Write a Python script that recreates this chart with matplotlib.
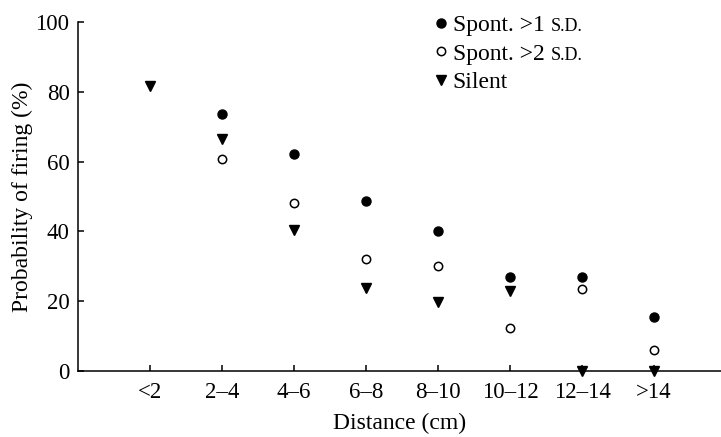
import numpy as np
from matplotlib import pyplot as plt

# Distance bins and firing probabilities (%)
categories = ['<2', '2–4', '4–6', '6–8', '8–10', '10–12', '12–14', '>14']
spont1 = [np.nan, 73.7, 62.1, 48.8, 40.0, 26.9, 26.9, 15.5]
spont2 = [np.nan, 60.7, 48.1, 32.0, 30.2, 12.3, 23.5, 6.0]
silent = [81.5, 66.4, 40.4, 23.7, 19.8, 22.9, 0.0, 0.0]
yticks = [0, 20, 40, 60, 80, 100]

plt.rcParams['font.family'] = ['Liberation Serif', 'DejaVu Serif']

fig = plt.figure(figsize=(7.21, 4.37), dpi=100)
ax = fig.add_axes([0.108, 0.151, 0.892, 0.799])

x = np.arange(1, len(categories) + 1)
ax.plot(x, spont1, 'o', color='black', markersize=6.5, clip_on=False, label='Spont. >1')
ax.plot(x, spont2, 'o', markerfacecolor='white', markeredgecolor='black', markeredgewidth=1.1,
        markersize=6, clip_on=False, label='Spont. >2')
ax.plot(x, silent, 'v', color='black', markersize=6.5, clip_on=False, label='Silent')

ax.set_xlim(0, 8.93)
ax.set_ylim(0, 100)
ax.set_xticks(x)
ax.set_xticklabels(categories)
ax.set_yticks(yticks)

for side in ['top', 'right']:
    ax.spines[side].set_visible(False)
for side in ['left', 'bottom']:
    ax.spines[side].set_linewidth(1.1)
ax.tick_params(direction='in', length=4, width=1.1, labelsize=16.5, pad=6)
ax.tick_params(axis='x', pad=8)

ax.set_xlabel('Distance (cm)', fontsize=17, labelpad=7)
ax.set_ylabel('Probability of firing (%)', fontsize=17, labelpad=2)

leg = ax.legend(loc='upper left', bbox_to_anchor=(0.537, 1.055), frameon=False, fontsize=17,
                handlelength=0.5, handletextpad=0.25, labelspacing=0.3, borderpad=0)

# small-caps "S.D." after the first two legend entries
fig.canvas.draw()
inv = fig.transFigure.inverted()
for t in leg.get_texts()[:2]:
    bb = t.get_window_extent()
    x0, y0 = inv.transform((bb.x1 + 6, bb.y0 + 0.22 * bb.height))
    fig.text(x0, y0, 'S.D.', fontsize=13, va='baseline', ha='left')

plt.savefig('out.png', dpi=100)
